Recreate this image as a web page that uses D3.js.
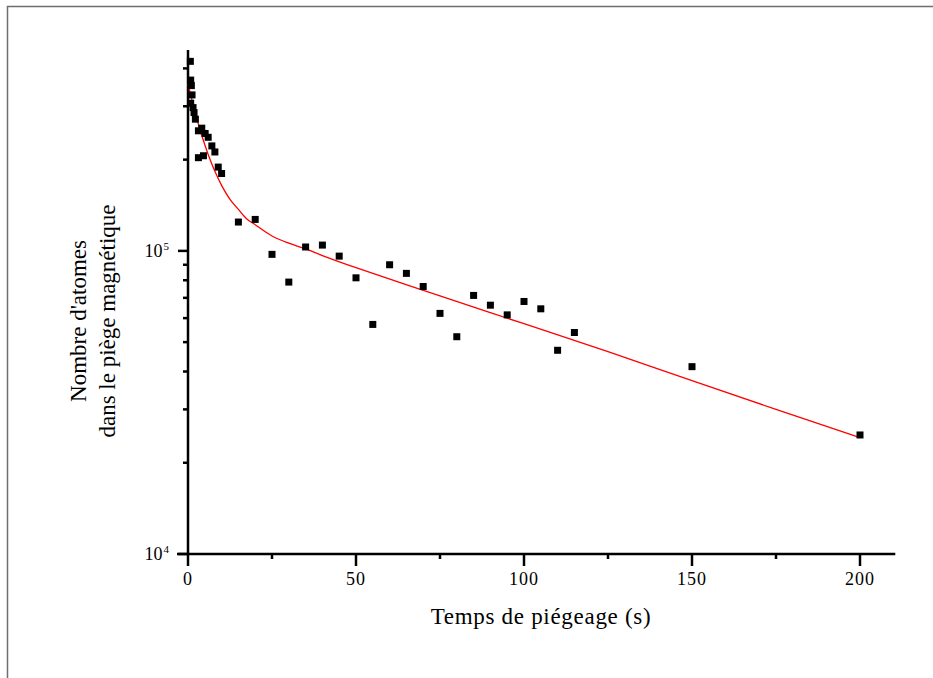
<!DOCTYPE html>
<html>
<head>
<meta charset="utf-8">
<script src="https://cdn.jsdelivr.net/npm/d3@7"></script>
<style>
body { margin: 0; background: #fff; }
text { font-family: "Liberation Serif", "Times New Roman", serif; fill: #000; }
</style>
</head>
<body>
<div id="chart"></div>
<script>
// measured points (time in s, number of atoms)
var times = [0.7, 0.8, 1.0, 1.2, 0.8, 1.5, 1.8, 2.2, 3.1, 4.1, 5.1, 6.0, 7.1, 8.0, 3.1, 4.6, 9.0, 10.0,
  15, 20, 25, 30, 35, 40, 45, 50, 55, 60, 65, 70, 75, 80, 85, 90, 95, 100, 105, 110, 115, 150, 200];
var atoms = [422000, 366000, 351000, 327000, 307000, 297000, 286000, 272000, 249000, 254000, 244000, 237000, 222000, 212000, 203000, 206000, 189000, 180000,
  124500, 127000, 97400, 78900, 103000, 104500, 96100, 81500, 57200, 90000, 84300, 76300, 62200, 52100, 71300, 66200, 61500, 68100, 64400, 47000, 53800, 41500, 24700];

// fitted curve
var fitTimes = [0, 1, 2, 3, 4, 5, 6, 8, 10, 12.5, 15, 17.5, 20, 25, 30, 35, 40, 50, 75, 100, 125, 150, 175, 200];
var fitAtoms = [355000, 320000, 289000, 264000, 242000, 224000, 208000, 183000, 164500, 148000, 137000, 127500, 122000, 112000, 106000, 101500, 96500, 88000, 71000, 57500, 46500, 37300, 30000, 24200];

var xTicks = [0, 50, 100, 150, 200];
var xMinor = [25, 75, 125, 175];
var yMajor = [1e4, 1e5];
var yMinor = [2e4, 3e4, 4e4, 5e4, 6e4, 7e4, 8e4, 9e4, 2e5, 3e5, 4e5];

var w = 933, h = 678;
var svg = d3.select("#chart").append("svg")
  .attr("width", w).attr("height", h);
svg.append("rect").attr("width", w).attr("height", h).attr("fill", "#fff");

// frame (top and left edges visible)
svg.append("path")
  .attr("d", "M7.5," + h + "V6.5H" + w)
  .attr("fill", "none").attr("stroke", "#6e6e6e").attr("stroke-width", 1.5);

var x = d3.scaleLinear().domain([0, 200]).range([188, 860]);
var y = d3.scaleLog().domain([1e4, 4.6e5]).range([554, 50]);

// x axis
var xAxis = svg.append("g").attr("transform", "translate(0,554)");
xAxis.append("line")
  .attr("x1", x(0) - 11).attr("x2", x(210.5))
  .attr("stroke", "#000").attr("stroke-width", 2.5);
xAxis.selectAll(".maj").data(xTicks).enter().append("line")
  .attr("x1", d => x(d)).attr("x2", d => x(d))
  .attr("y1", 0).attr("y2", 12)
  .attr("stroke", "#000").attr("stroke-width", 2.5);
xAxis.selectAll(".min").data(xMinor).enter().append("line")
  .attr("x1", d => x(d)).attr("x2", d => x(d))
  .attr("y1", 0).attr("y2", 5)
  .attr("stroke", "#000").attr("stroke-width", 2.5);
xAxis.selectAll("text").data(xTicks).enter().append("text")
  .attr("x", d => x(d)).attr("y", 31)
  .attr("text-anchor", "middle")
  .attr("font-size", 18)
  .attr("letter-spacing", 1)
  .text(d => d);

// y axis
var yAxis = svg.append("g").attr("transform", "translate(188,0)");
yAxis.append("line")
  .attr("y1", y.range()[1]).attr("y2", y(1e4))
  .attr("stroke", "#000").attr("stroke-width", 2.5);
yAxis.selectAll(".maj").data(yMajor).enter().append("line")
  .attr("x1", -10).attr("x2", 0)
  .attr("y1", d => y(d)).attr("y2", d => y(d))
  .attr("stroke", "#000").attr("stroke-width", 2.5);
yAxis.selectAll(".min").data(yMinor).enter().append("line")
  .attr("x1", -5).attr("x2", 0)
  .attr("y1", d => y(d)).attr("y2", d => y(d))
  .attr("stroke", "#000").attr("stroke-width", 2.5);
var yl = yAxis.selectAll("text").data(yMajor).enter().append("text")
  .attr("x", -19).attr("y", d => y(d) + 6)
  .attr("text-anchor", "end")
  .attr("font-size", 18);
yl.append("tspan").text("10");
yl.append("tspan").attr("font-size", 11).attr("dy", -7).attr("dx", 1).text(d => Math.round(Math.log10(d)));

// fitted curve
var fit = fitTimes.map((t, i) => [t, fitAtoms[i]]);
svg.append("path")
  .datum(fit)
  .attr("fill", "none")
  .attr("stroke", "#ff0000")
  .attr("stroke-width", 1.3)
  .attr("d", d3.line().x(d => x(d[0])).y(d => y(d[1])).curve(d3.curveCatmullRom.alpha(0.5)));

// data squares
var pts = times.map((t, i) => [t, atoms[i]]);
svg.selectAll(".pt").data(pts).enter().append("rect")
  .attr("x", d => x(d[0]) - 3.5)
  .attr("y", d => y(d[1]) - 3.5)
  .attr("width", 7).attr("height", 7)
  .attr("fill", "#000");

// labels
svg.append("text")
  .attr("x", 541).attr("y", 624)
  .attr("text-anchor", "middle")
  .attr("font-size", 23)
  .attr("letter-spacing", 0.7)
  .text("Temps de piégeage (s)");

var ylab = svg.append("text")
  .attr("transform", "translate(86,321) rotate(-90)")
  .attr("text-anchor", "middle")
  .attr("font-size", 23);
ylab.append("tspan").attr("x", 0).attr("y", 0).text("Nombre d'atomes");
ylab.append("tspan").attr("x", 0).attr("y", 29).text("dans le piège magnétique");
</script>
</body>
</html>
